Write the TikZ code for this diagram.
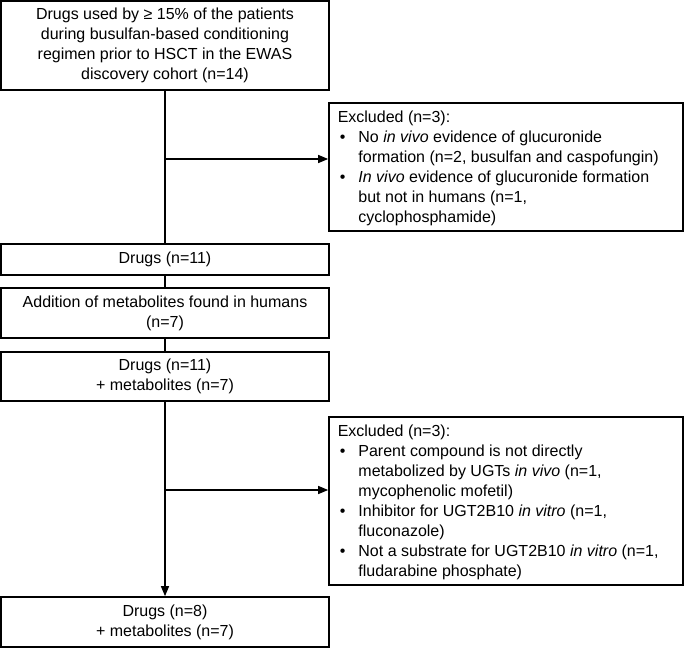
\documentclass[tikz,border=0pt]{standalone}
\usepackage{fontspec}
\setmainfont{Liberation Sans}
\usetikzlibrary{arrows.meta}
\newcommand{\bul}{\hspace*{1.5pt}\makebox[14pt][l]{\textbullet}}
\newcommand{\ind}{\hspace*{15.5pt}}
\begin{document}
\begin{tikzpicture}[x=0.75pt,y=-0.75pt,
  every node/.style={font=\fontsize{12}{15}\selectfont},
  box/.style={draw, line width=1.25pt, minimum width=246pt, align=center, inner sep=0pt},
  exbox/.style={draw, line width=1.25pt, minimum width=265.5pt, inner sep=0pt},
  extext/.style={anchor=west, align=left, inner sep=0pt},
  conn/.style={line width=1pt},
  arr/.style={line width=1pt, -{Triangle[length=7.5pt,width=6pt]}}]
\useasboundingbox (0,0) rectangle (685,649);

\node[box, minimum height=66.75pt] (b1) at (165,45.5)
  {Drugs used by ≥ 15\% of the patients\\during busulfan-based conditioning\\regimen prior to HSCT in the EWAS\\discovery cohort (n=14)};

\node[exbox, minimum height=96pt] (e1) at (506,167) {};
\node[extext] (e1t) at (337.5,168)
  {Excluded (n=3):\\
   \bul No \textit{in vivo} evidence of glucuronide\\
   \ind formation (n=2, busulfan and caspofungin)\\
   \bul\textit{In vivo} evidence of glucuronide formation\\
   \ind but not in humans (n=1,\\
   \ind cyclophosphamide)};

\node[box, minimum height=23.25pt] (b2) at (165,259.5) {Drugs (n=11)};
\node[box, minimum height=37.5pt] (b3) at (165,313) {Addition of metabolites found in humans\\(n=7)};
\node[box, minimum height=36.75pt] (b4) at (165,376.5) {Drugs (n=11)\\+ metabolites (n=7)};

\node[exbox, minimum height=126pt] (e2) at (506,501) {};
\node[extext] (e2t) at (337.5,502)
  {Excluded (n=3):\\
   \bul Parent compound is not directly\\
   \ind metabolized by UGTs \textit{in vivo} (n=1,\\
   \ind mycophenolic mofetil)\\
   \bul Inhibitor for UGT2B10 \textit{in vitro} (n=1,\\
   \ind fluconazole)\\
   \bul Not a substrate for UGT2B10 \textit{in vitro} (n=1,\\
   \ind fludarabine phosphate)};

\node[box, minimum height=37.5pt] (b5) at (165,622) {Drugs (n=8)\\+ metabolites (n=7)};

\draw[conn] (b1.south) -- (b2.north);
\coordinate (j1) at (165,159);
\draw[arr] (j1) -- (j1 -| e1.west);
\draw[conn] (b2.south) -- (b3.north);
\draw[conn] (b3.south) -- (b4.north);
\draw[arr] (b4.south) -- (b5.north);
\coordinate (j2) at (165,490);
\draw[arr] (j2) -- (j2 -| e2.west);
\end{tikzpicture}
\end{document}
